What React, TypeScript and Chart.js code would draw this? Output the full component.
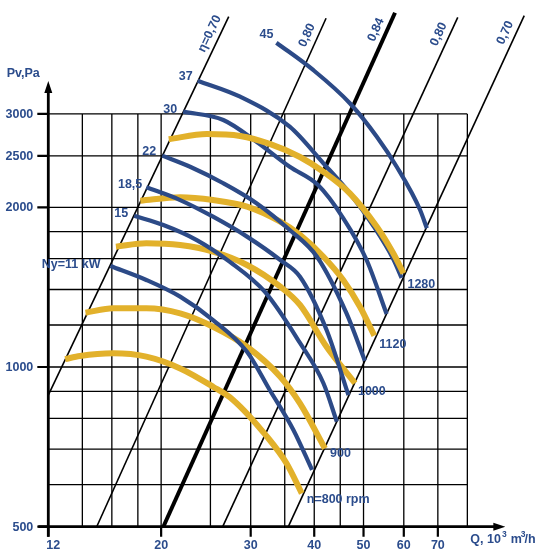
import React, { useEffect, useRef } from "react";
import { Chart, registerables } from "chart.js";

Chart.register(...registerables);

// ---------- axes ----------
const viewQ = [9.643, 118.97];
const viewP = [438.4, 4918];
const gridQ = [12, 14, 16, 18, 20, 25, 30, 35, 40, 45, 50, 60, 70, 80];
const gridP = [500, 600, 700, 800, 900, 1000, 1200, 1400, 1600, 1800, 2000, 2500, 3000];
const qTickLabels = [12, 20, 30, 40, 50, 60, 70];
const pTickLabels = [500, 1000, 2000, 2500, 3000];

// ---------- efficiency lines (end points) ----------
const etaLabels = ["η=0,70", "0,80", "0,84", "0,80", "0,70"];
const etaQ = [[12, 27.16], [14.94, 42.2], [20.2, 57.66], [26.43, 76.6], [35.57, 103.5]];
const etaP = [[885, 4574], [500, 4543], [500, 4654], [500, 4562], [500, 4594]];

// ---------- power curves (kW) ----------
const powerLabels = ["45", "37", "30", "22", "18,5", "15", "Ny=11 kW"];
const kw45Q = [33.7, 39.8, 47.0, 53.1, 58.1, 64.6, 66.6];
const kw45P = [4086, 3630, 3142, 2717, 2385, 1977, 1826];
const kw37Q = [23.6, 28.6, 35.8, 41.7, 47.0, 52.3, 57.2, 59.4];
const kw37P = [3465, 3232, 2838, 2421, 2125, 1844, 1598, 1472];
const kw30Q = [22.1, 26.5, 30.8, 35.8, 40.7, 45.6, 50.7, 55.5];
const kw30P = [3029, 2922, 2659, 2385, 2203, 1909, 1591, 1259];
const kw22Q = [20.1, 22.8, 26.5, 30.8, 35.8, 40.5, 46.3, 50.3];
const kw22P = [2503, 2385, 2220, 2036, 1812, 1614, 1262, 1028];
const kw185Q = [18.7, 21.8, 25.3, 29.5, 34.3, 37.5, 42.3, 46.7];
const kw185P = [2182, 2064, 1920, 1761, 1591, 1480, 1174, 885];
const kw15Q = [17.7, 20.2, 23.5, 27.3, 32.0, 37.5, 41.7, 44.3];
const kw15P = [1928, 1852, 1735, 1578, 1385, 1110, 932, 789];
const kw11Q = [15.9, 18.7, 21.8, 25.3, 29.5, 32.7, 36.4, 39.6];
const kw11P = [1550, 1459, 1357, 1226, 1068, 905, 761, 640];

// ---------- speed curves (rpm) ----------
const rpmLabels = ["1280", "1120", "1000", "900", "n=800 rpm"];
const rpm1280Q = [20.7, 24.6, 28.6, 32.7, 37.5, 41.7, 47.0, 53.1, 57.2, 59.9];
const rpm1280P = [2687, 2749, 2726, 2633, 2488, 2334, 2125, 1838, 1638, 1502];
const rpm1120Q = [18.2, 21.8, 25.3, 29.5, 34.3, 37.5, 41.7, 45.6, 49.2, 52.5];
const rpm1120P = [2058, 2089, 2064, 2006, 1879, 1774, 1614, 1459, 1299, 1146];
const rpm1000Q = [16.3, 18.7, 21.8, 25.3, 29.5, 34.3, 37.5, 42.3, 48.1];
const rpm1000P = [1686, 1711, 1698, 1650, 1557, 1417, 1309, 1092, 932];
const rpm900Q = [14.2, 16.1, 18.7, 21.8, 25.3, 29.5, 34.3, 37.5, 42.0];
const rpm900P = [1266, 1290, 1290, 1262, 1191, 1092, 959, 854, 702];
const rpm800Q = [12.95, 13.85, 16.1, 18.7, 21.8, 25.3, 27.7, 32.3, 35.3, 37.8];
const rpm800P = [1035, 1049, 1061, 1046, 994, 918, 867, 739, 658, 578];

// ---------- styles ----------
const FONT = '"Liberation Sans", Arial, Helvetica, sans-serif';
const TEXT = "#2b4c8c";
const BLUE = "#2c4a87";
const YELLOW = "#e2b12b";
const powerLabelOffsets = [[-3, -8], [-5, -4], [-6, -2], [-6, -4], [-4, -3], [-6, -2], [-10, -1]];
const rpmLabelOffsets = [[4, 11], [5, 9], [3, 8], [5, 5], [5, 6]];
const rpmOrder = [0, 2, 2, 2, 2];

const powerQ = [kw45Q, kw37Q, kw30Q, kw22Q, kw185Q, kw15Q, kw11Q];
const powerP = [kw45P, kw37P, kw30P, kw22P, kw185P, kw15P, kw11P];
const rpmQ = [rpm1280Q, rpm1120Q, rpm1000Q, rpm900Q, rpm800Q];
const rpmP = [rpm1280P, rpm1120P, rpm1000P, rpm900P, rpm800P];

const toPts = (q: number[], p: number[]) => q.map((v, i) => ({ x: v, y: p[i] }));

const overlayPlugin = {
  id: "fanOverlay",
  beforeDatasetsDraw(chart: any) {
    const { ctx } = chart;
    const xs = chart.scales.x;
    const ys = chart.scales.y;
    const X = (v: number) => xs.getPixelForValue(v);
    const Y = (v: number) => ys.getPixelForValue(v);
    const left = X(gridQ[0]);
    const right = X(gridQ[gridQ.length - 1]);
    const bottom = Y(gridP[0]);
    const top = Y(gridP[gridP.length - 1]);
    ctx.save();
    ctx.strokeStyle = "#000";
    ctx.lineWidth = 1.3;
    ctx.beginPath();
    gridQ.slice(1).forEach((q) => {
      const px = X(q);
      ctx.moveTo(px, bottom);
      ctx.lineTo(px, top);
    });
    gridP.slice(1).forEach((p) => {
      const py = Y(p);
      ctx.moveTo(left, py);
      ctx.lineTo(right, py);
    });
    ctx.stroke();
    // axes
    ctx.lineWidth = 2.8;
    ctx.beginPath();
    ctx.moveTo(left, bottom + 10);
    ctx.lineTo(left, top - 24);
    ctx.moveTo(left - 10, bottom);
    ctx.lineTo(right + 30, bottom);
    ctx.stroke();
    ctx.fillStyle = "#000";
    ctx.beginPath();
    ctx.moveTo(left, top - 33);
    ctx.lineTo(left - 4, top - 21);
    ctx.lineTo(left + 4, top - 21);
    ctx.closePath();
    ctx.moveTo(right + 38, bottom);
    ctx.lineTo(right + 26, bottom - 4);
    ctx.lineTo(right + 26, bottom + 4);
    ctx.closePath();
    ctx.fill();
    // tick marks
    ctx.lineWidth = 2.2;
    ctx.beginPath();
    pTickLabels.forEach((p) => {
      ctx.moveTo(left - 11, Y(p));
      ctx.lineTo(left, Y(p));
    });
    qTickLabels.forEach((q) => {
      ctx.moveTo(X(q), bottom);
      ctx.lineTo(X(q), bottom + 10);
    });
    ctx.stroke();
    ctx.restore();
  },
  afterDatasetsDraw(chart: any) {
    const { ctx } = chart;
    const xs = chart.scales.x;
    const ys = chart.scales.y;
    const X = (v: number) => xs.getPixelForValue(v);
    const Y = (v: number) => ys.getPixelForValue(v);
    const left = X(gridQ[0]);
    const right = X(gridQ[gridQ.length - 1]);
    const bottom = Y(gridP[0]);
    const top = Y(gridP[gridP.length - 1]);
    const big = `bold 12.5px ${FONT}`;
    const small = `bold 8.5px ${FONT}`;
    ctx.save();
    ctx.fillStyle = TEXT;
    ctx.font = big;
    ctx.textBaseline = "middle";
    // y tick labels
    ctx.textAlign = "right";
    pTickLabels.forEach((p) => ctx.fillText(String(p), left - 15, Y(p) + 0.5));
    // x tick labels
    ctx.textAlign = "center";
    qTickLabels.forEach((q, i) => ctx.fillText(String(q), X(q) + (i === 0 ? 5 : 0), bottom + 18.5));
    // axis titles
    ctx.textAlign = "left";
    ctx.fillText("Pv,Pa", left - 41.6, top - 40);
    let tx = right + 3;
    const ty = bottom + 12.5;
    ctx.fillText("Q, 10", tx, ty);
    tx += ctx.measureText("Q, 10").width + 1;
    ctx.font = small;
    ctx.fillText("3", tx, ty - 5);
    tx += ctx.measureText("3").width + 4;
    ctx.font = big;
    ctx.fillText("m", tx, ty);
    tx += ctx.measureText("m").width - 1;
    ctx.font = small;
    ctx.fillText("3", tx, ty - 5);
    tx += ctx.measureText("3").width - 1;
    ctx.font = big;
    ctx.fillText("/h", tx, ty);
    // power labels
    ctx.textAlign = "right";
    powerLabels.forEach((lab, i) => {
      const px = X(powerQ[i][0]) + powerLabelOffsets[i][0];
      const py = Y(powerP[i][0]) + powerLabelOffsets[i][1];
      ctx.fillText(lab, px, py);
    });
    // rpm labels
    ctx.textAlign = "left";
    rpmLabels.forEach((lab, i) => {
      const n = rpmQ[i].length - 1;
      const px = X(rpmQ[i][n]) + rpmLabelOffsets[i][0];
      const py = Y(rpmP[i][n]) + rpmLabelOffsets[i][1];
      ctx.fillText(lab, px, py);
    });
    // efficiency labels
    ctx.textAlign = "center";
    etaLabels.forEach((lab, i) => {
      const x0 = X(etaQ[i][0]);
      const y0 = Y(etaP[i][0]);
      const x1 = X(etaQ[i][1]);
      const y1 = Y(etaP[i][1]);
      const ang = Math.atan2(y1 - y0, x1 - x0);
      ctx.save();
      ctx.translate(x1 - 19, y1 + 17);
      ctx.rotate(ang);
      ctx.fillText(lab, 0, 0);
      ctx.restore();
    });
    ctx.restore();
  },
};

export default function App() {
  const ref = useRef<HTMLCanvasElement>(null);
  useEffect(() => {
    const datasets: any[] = [];
    rpmQ.forEach((q, i) => {
      datasets.push({
        label: rpmLabels[i],
        data: toPts(q, rpmP[i]),
        borderColor: YELLOW,
        borderWidth: 6,
        pointRadius: 0,
        cubicInterpolationMode: "monotone",
        fill: false,
        order: rpmOrder[i],
      });
    });
    powerQ.forEach((q, i) => {
      datasets.push({
        label: powerLabels[i],
        data: toPts(q, powerP[i]),
        borderColor: BLUE,
        borderWidth: 4.2,
        pointRadius: 0,
        cubicInterpolationMode: "monotone",
        fill: false,
        order: 1,
      });
    });
    etaQ.forEach((q, i) => {
      datasets.push({
        label: etaLabels[i],
        data: toPts(q, etaP[i]),
        borderColor: "#000",
        borderWidth: i === 2 ? 4 : 1.6,
        pointRadius: 0,
        fill: false,
        order: 3,
      });
    });
    const chart = new Chart(ref.current as HTMLCanvasElement, {
      type: "line",
      data: { datasets },
      options: {
        animation: false,
        responsive: false,
        events: [],
        layout: { padding: 0 },
        plugins: {
          legend: { display: false },
          tooltip: { enabled: false },
          title: { display: false },
        },
        scales: {
          x: { type: "logarithmic", display: false, min: viewQ[0], max: viewQ[1], bounds: "data" },
          y: { type: "logarithmic", display: false, min: viewP[0], max: viewP[1], bounds: "data" },
        },
      } as any,
      plugins: [overlayPlugin],
    });
    return () => chart.destroy();
  }, []);
  return (
    <div style={{ position: "absolute", left: 0, top: 0, width: 555, height: 557, background: "#fff" }}>
      <canvas ref={ref} width={555} height={557} style={{ display: "block" }} />
    </div>
  );
}
